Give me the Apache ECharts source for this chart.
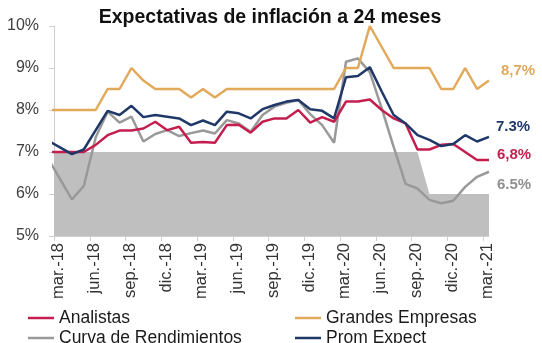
<!DOCTYPE html>
<html>
<head>
<meta charset="utf-8">
<script src="https://cdn.jsdelivr.net/npm/echarts@6/dist/echarts.min.js"></script>
<style>html,body{margin:0;padding:0;background:#fff;}#c{width:542px;height:343px;}</style>
</head>
<body>
<div id="c"></div>
<script>
// Monthly observations (mid-month); first one (feb.-18) is clipped at the axis start
const months = ['feb.-18','mar.-18','abr.-18','may.-18','jun.-18','jul.-18','ago.-18','sep.-18','oct.-18','nov.-18','dic.-18',
  'ene.-19','feb.-19','mar.-19','abr.-19','may.-19','jun.-19','jul.-19','ago.-19','sep.-19','oct.-19','nov.-19','dic.-19',
  'ene.-20','feb.-20','mar.-20','abr.-20','may.-20','jun.-20','jul.-20','ago.-20','sep.-20','oct.-20','nov.-20','dic.-20',
  'ene.-21','feb.-21','mar.-21'];
const tickLabels = ['mar.-18','jun.-18','sep.-18','dic.-18','mar.-19','jun.-19','sep.-19','dic.-19','mar.-20','jun.-20','sep.-20','dic.-20','mar.-21'];

const analistas = [7.0,7.0,7.0,7.0,7.17,7.4,7.51,7.51,7.56,7.72,7.52,
  7.6,7.22,7.24,7.22,7.64,7.65,7.46,7.72,7.8,7.8,8.0,7.7,
  7.83,7.72,8.2,8.2,8.25,8.0,7.8,7.68,7.06,7.06,7.17,7.19,
  7.0,6.81,6.81];
const grandesEmpresas = [8.0,8.0,8.0,8.0,8.0,8.5,8.5,9.0,8.7,8.5,8.5,
  8.5,8.3,8.5,8.3,8.5,8.5,8.5,8.5,8.5,8.5,8.5,8.5,
  8.5,8.5,9.0,9.0,10.0,9.5,9.0,9.0,9.0,9.0,8.5,8.5,
  9.0,8.5,8.7];
const curvaRendimientos = [6.85,6.36,5.87,6.19,7.35,7.96,7.7,7.84,7.25,7.43,7.52,
  7.38,7.45,7.51,7.44,7.76,7.68,7.48,7.88,8.08,8.17,8.24,7.9,
  7.64,7.22,9.15,9.23,8.9,8.04,7.12,6.24,6.13,5.86,5.78,5.84,
  6.17,6.41,6.53];
const promExpect = [7.27,7.11,6.95,7.06,7.52,7.98,7.88,8.1,7.83,7.88,7.84,
  7.8,7.64,7.75,7.64,7.96,7.92,7.8,8.02,8.12,8.2,8.24,8.02,
  7.98,7.8,8.78,8.81,9.02,8.44,7.88,7.68,7.4,7.29,7.14,7.19,
  7.4,7.25,7.36];
const meta = [7,7,7,7,7,7,7,7,7,7,7,
  7,7,7,7,7,7,7,7,7,7,7,7,
  7,7,7,7,7,7,7,7,7,6,6,6,
  6,6,6];
const endTexts = {analistas:'6,8%', grandes:'8,7%', curva:'6.5%', prom:'7.3%'};

// month position: mar.-18 start = 0; observations at mid-month
const pos = i => i - 0.5;
const toPairs = arr => arr.map((v, i) => [pos(i), v]);
const tickVals = tickLabels.map((_, i) => i * 3);
const labelVals = tickLabels.map((_, i) => i * 3 + 0.4);

const FONT = 'Liberation Sans, Arial, sans-serif';
const C_RED = '#C41E4F', C_GOLD = '#E2A95A', C_GRAY = '#999999', C_NAVY = '#1F3868';

const legendCommon = {
  orient: 'vertical', top: 309, height: 60, padding: 0,
  icon: 'rect', itemWidth: 26, itemHeight: 2.5, itemGap: 2,
  textStyle: {fontSize: 17.5, color: '#1a1a1a', fontFamily: FONT}
};

const chart = echarts.init(document.getElementById('c'), null, {renderer: 'canvas'});
chart.setOption({
  animation: false,
  textStyle: {fontFamily: FONT},
  title: {
    text: 'Expectativas de inflación a 24 meses',
    left: 265, textAlign: 'center', top: 3,
    textStyle: {fontSize: 19.5, fontWeight: 'bold', color: '#111', fontFamily: FONT}
  },
  grid: {left: 54, right: 53, top: 26, bottom: 107, containLabel: false},
  xAxis: {
    type: 'value', min: 0, max: 36.5,
    splitLine: {show: false},
    axisLine: {show: true, lineStyle: {color: '#cfcfcf', width: 1}},
    axisTick: {show: true, length: 5, customValues: tickVals, lineStyle: {color: '#cfcfcf'}},
    axisLabel: {
      customValues: labelVals, rotate: 90, margin: 7,
      fontSize: 16.5, color: '#333', fontFamily: FONT,
      formatter: v => tickLabels[Math.round((v - 0.4) / 3)] || ''
    }
  },
  yAxis: {
    type: 'value', min: 5, max: 10, interval: 1,
    splitLine: {show: false},
    axisLine: {show: true, lineStyle: {color: '#cfcfcf', width: 1}},
    axisTick: {show: true, length: 5, lineStyle: {color: '#cfcfcf'}},
    axisLabel: {formatter: '{value}%', fontSize: 16, color: '#404040', margin: 15, fontFamily: FONT}
  },
  legend: [
    Object.assign({data: ['Analistas', 'Curva de Rendimientos'], left: 28}, legendCommon),
    Object.assign({data: ['Grandes Empresas', 'Prom Expect'], left: 295}, legendCommon)
  ],
  series: [
    {name: 'Meta', type: 'line', data: toPairs(meta), showSymbol: false, symbol: 'none',
     lineStyle: {width: 0}, areaStyle: {color: '#BFBFBF', opacity: 1, origin: 'start'}, z: 1, silent: true},
    {name: 'Curva de Rendimientos', type: 'line', data: toPairs(curvaRendimientos), symbol: 'none',
     color: C_GRAY, lineStyle: {width: 2.5, color: C_GRAY}, z: 2,
     endLabel: {show: true, formatter: endTexts.curva, offset: [0, 13], color: '#8f8f8f', fontSize: 15, fontWeight: 'bold', fontFamily: FONT}},
    {name: 'Grandes Empresas', type: 'line', data: toPairs(grandesEmpresas), symbol: 'none',
     color: C_GOLD, lineStyle: {width: 2.5, color: C_GOLD}, z: 3,
     endLabel: {show: true, formatter: endTexts.grandes, offset: [4, -10], color: C_GOLD, fontSize: 15, fontWeight: 'bold', fontFamily: FONT}},
    {name: 'Analistas', type: 'line', data: toPairs(analistas), symbol: 'none',
     color: C_RED, lineStyle: {width: 2.5, color: C_RED}, z: 4,
     endLabel: {show: true, formatter: endTexts.analistas, offset: [0, -5], color: C_RED, fontSize: 15, fontWeight: 'bold', fontFamily: FONT}},
    {name: 'Prom Expect', type: 'line', data: toPairs(promExpect), symbol: 'none',
     color: C_NAVY, lineStyle: {width: 2.5, color: C_NAVY}, z: 5,
     endLabel: {show: true, formatter: endTexts.prom, offset: [-1, -10], color: C_NAVY, fontSize: 15, fontWeight: 'bold', fontFamily: FONT}}
  ]
});
</script>
</body>
</html>
